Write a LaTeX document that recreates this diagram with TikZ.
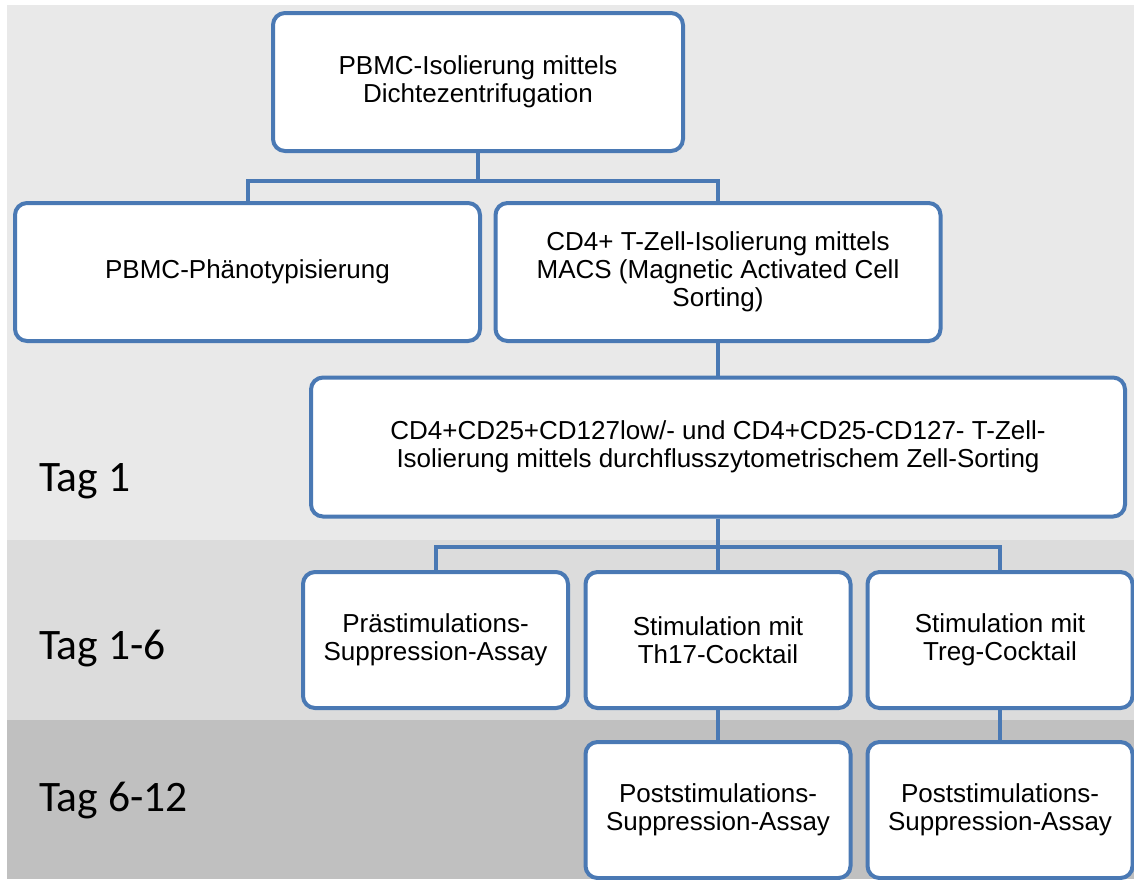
\documentclass[tikz,border=0pt]{standalone}
\usepackage{fontspec}
\setmainfont{Liberation Sans}
\newfontfamily\tagfont{Carlito}
\definecolor{bandone}{HTML}{E9E9E9}
\definecolor{bandtwo}{HTML}{DCDCDC}
\definecolor{bandthree}{HTML}{C0C0C0}
\definecolor{boxblue}{HTML}{4A79B4}
\tikzset{
  box/.style={draw=boxblue, line width=4pt, rounded corners=12pt, fill=white,
    align=center, inner sep=0pt, font=\fontsize{26}{28}\selectfont},
  smallbox/.style={box, minimum width=265pt, minimum height=136pt},
  link/.style={draw=boxblue, line width=4pt},
  daylabel/.style={anchor=base west, inner sep=0pt, font=\tagfont\fontsize{43.5}{50}\selectfont}
}
\begin{document}
\begin{tikzpicture}[x=1pt,y=-1pt]
\useasboundingbox (0,0) rectangle (1134,879);
\fill[white](0,0) rectangle (1134,879);
\fill[bandone](7,5) rectangle (1134,540);
\fill[bandtwo](7,540) rectangle (1134,720);
\fill[bandthree](7,720) rectangle (1134,879);

\node[daylabel] (tag1) at (39,491) {Tag 1};
\node[daylabel] (tag16) at (39,659) {Tag 1-6};
\node[daylabel] (tag612) at (39,811) {Tag 6-12};

\node[box, minimum width=410pt, minimum height=138pt] (pbmc) at (478,82) {PBMC-Isolierung mittels\\Dichtezentrifugation};
\node[box, minimum width=465pt, minimum height=138pt] (pheno) at (247.5,272) {PBMC-Phänotypisierung};
\node[box, minimum width=445pt, minimum height=138pt] (macs) at (718,272) {CD4+ T-Zell-Isolierung mittels\\MACS (Magnetic Activated Cell\\Sorting)};
\node[box, minimum width=814pt, minimum height=139pt] (sort) at (718,447) {CD4+CD25+CD127low/- und CD4+CD25-CD127- T-Zell-\\Isolierung mittels durchflusszytometrischem Zell-Sorting};

\node[smallbox] (prae) at (435.5,640) {Prästimulations-\\Suppression-Assay};
\node[smallbox] (th17) at (718,640) {Stimulation mit\\Th17-Cocktail};
\node[smallbox] (treg) at (1000,640) {Stimulation mit\\Treg-Cocktail};
\node[smallbox] (post17) at (718,810) {Poststimulations-\\Suppression-Assay};
\node[smallbox] (postreg) at (1000,810) {Poststimulations-\\Suppression-Assay};

\draw[link] (pbmc.south) -- ++(0,28) coordinate (fork1);
\foreach \t in {pheno, macs}
  \draw[link] (fork1) -| (\t.north);
\draw[link] (macs.south) -- (sort.north);
\draw[link] (sort.south) -- ++(0,28) coordinate (fork2);
\foreach \t in {prae, th17, treg}
  \draw[link] (fork2) -| (\t.north);
\draw[link] (th17.south) -- (post17.north);
\draw[link] (treg.south) -- (postreg.north);

\end{tikzpicture}
\end{document}
